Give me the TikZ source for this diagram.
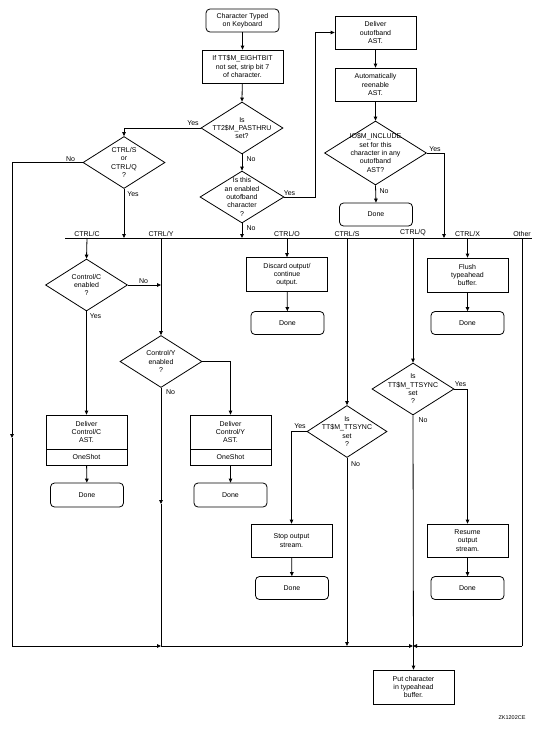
\documentclass[tikz,border=0pt]{standalone}
\usepackage{fontspec}
\setmainfont{Liberation Sans}
\usetikzlibrary{shapes.geometric, arrows.meta}

\begin{document}
\begin{tikzpicture}[x = 1pt, y = -1pt, line width = 0.8pt, >={Triangle[length = 4pt, width = 3.6pt]},
	txt/.style = {font = \fontsize{7pt}{8.3pt}\selectfont, align = center, inner sep = 0pt},
	procbox/.style = {txt, draw, rectangle, minimum width = 81pt, minimum height = 33pt},
	donebox/.style = {txt, draw, rectangle, rounded corners = 4pt, minimum width = 73pt, minimum height = 23pt},
	query/.style = {draw, diamond, inner sep = 0pt, minimum width = 82pt, minimum height = 52pt}]
	\useasboundingbox (0,0) rectangle (546,731);
	
	% main column
	\node[donebox] (typed) at (242.5,20.5) {Character Typed\\on Keyboard};
	\node[procbox] (eightbit) at (242.5,66.5) {If TT\$M\_EIGHTBIT\\not set, strip bit 7\\of character.};
	\node[query, label = {[txt]center:Is\\TT2\$M\_PASTHRU\\set?}] (pasthru) at (242,128) {};
	\node[query, minimum width = 84pt, label = {[txt]center:Is this\\an enabled\\outofband\\character\\?}] (oob) at (242,197) {};
	\node[query, label = {[txt]center:CTRL/S\\or\\CTRL/Q\\?}] (ctlsq) at (124,162.5) {};
	
	% outofband branch
	\node[procbox] (deliver) at (375.5,32.5) {Deliver\\outofband\\AST.};
	\node[procbox] (reenable) at (375.5,84.5) {Automatically\\reenable\\AST.};
	\node[query, minimum width = 102pt, minimum height = 64pt, label = {[txt]center:IO\$M\_INCLUDE\\set for this\\character in any\\outofband\\AST?}] (include) at (375.5,153) {};
	\node[donebox] (done0) at (376,214.5) {Done};
	
	% dispatch line
	\coordinate (busL) at (65,238);
	\coordinate (busR) at (532,238);
	\coordinate (busInc) at (444,238);
	\draw (busL) -- (busR);
	\foreach \x/\lab/\nm in {87/{CTRL/C}/busC, 161/{CTRL/Y}/busY, 287/{CTRL/O}/busO, 347/{CTRL/S}/busS, 413/{CTRL/Q}/busQ, 467.5/{CTRL/X}/busX, 522/Other/busOther} {
		\coordinate[label = {[txt, inner sep = 1.5pt]above:\lab}] (\nm) at (\x,238);
	}
	
	% CTRL/C and CTRL/Y
	\node[query, label = {[txt]center:Control/C\\enabled\\?}] (ctlc) at (86.5,285) {};
	\node[query, label = {[txt]center:Control/Y\\enabled\\?}] (ctly) at (161,361.5) {};
	\node[procbox, minimum height = 34pt] (astc) at (86.5,432) {Deliver\\Control/C\\AST.};
	\node[procbox, minimum height = 16pt] (shotc) at (86.5,457) {OneShot};
	\node[donebox, minimum height = 24pt] (donec) at (87,495) {Done};
	\node[procbox, minimum height = 34pt] (asty) at (230.5,432) {Deliver\\Control/Y\\AST.};
	\node[procbox, minimum height = 16pt] (shoty) at (230.5,457) {OneShot};
	\node[donebox, minimum height = 24pt] (doney) at (230.5,495) {Done};
	
	% CTRL/O and CTRL/X
	\node[procbox, minimum height = 34pt] (discard) at (287,274.5) {Discard output/\\continue\\output.};
	\node[donebox] (doneo) at (287.5,323) {Done};
	\node[procbox, minimum height = 34pt] (flush) at (467.5,275) {Flush\\typeahead\\buffer.};
	\node[donebox] (donex) at (467.5,323) {Done};
	
	% CTRL/S and CTRL/Q
	\node[query, minimum width = 80pt, label = {[txt]center:Is\\TT\$M\_TTSYNC\\set\\?}] (ssync) at (347,431.5) {};
	\node[query, label = {[txt]center:Is\\TT\$M\_TTSYNC\\set\\?}] (qsync) at (413,389) {};
	\node[procbox] (stop) at (291.5,540.5) {Stop output\\stream.};
	\node[donebox] (dones) at (292,588) {Done};
	\node[procbox] (resume) at (467.5,540.5) {Resume\\output\\stream.};
	\node[donebox] (doneq) at (467.5,588) {Done};
	
	% typeahead
	\node[procbox, minimum height = 34pt] (put) at (413.5,687) {Put character\\in typeahead\\buffer.};
	\node[txt, font = \fontsize{5.5pt}{6pt}\selectfont] (zk) at (512,718) {ZK1202CE};
	
	% yes / no
	\foreach \x/\y/\t/\nm in {193/123.5/Yes/y1, 251/159.5/No/n1, 70.5/159.5/No/n2, 133/194.5/Yes/y2, 251/228.5/No/n3, 289.5/193/Yes/y3, 435/149.5/Yes/y4, 384/191.5/No/n4, 143.5/281.5/No/n5, 95.5/316.5/Yes/y5, 170.5/392.5/No/n6, 300/426.5/Yes/y6, 355.5/464/No/n7, 460.5/384.5/Yes/y7, 423/420.5/No/n8} {
		\node[txt] (\nm) at (\x,\y) {\t};
	}
	
	% connectors
	\draw[->] (typed) -- (eightbit);
	\draw[->] (eightbit) -- (pasthru.north);
	\draw[->] (pasthru.south) -- (oob.north);
	\draw[->] (pasthru.west) -| (ctlsq.north);
	\draw[->] (ctlsq.south) -- (ctlsq.south |- busL);
	\draw[->] (oob.south) -- (oob.south |- busL);
	\draw[->] (oob.east) -- ++(31,0) |- (deliver.west);
	\draw[->] (deliver) -- (reenable);
	\draw[->] (reenable.south) -- (include.north);
	\draw[->] (include.south) -- (done0.north);
	\draw[->] (include.east) -| (busInc);
	
	\draw[->] (busC) -- (ctlc.north);
	\draw[->] (ctlc.south) -- (astc.north);
	\draw[->] (shotc) -- (donec);
	\draw[->] (ctlc.east) -- (ctlc.east -| busY);
	\draw[->] (busY) -- (ctly.north);
	\draw[->] (ctly.east) -| (asty.north);
	\draw[->] (shoty) -- (doney);
	\draw[->] (busO) -- (discard.north);
	\draw[->] (discard) -- (doneo);
	\draw[->] (busX) -- (flush.north);
	\draw[->] (flush) -- (donex);
	\draw[->] (busS) -- (ssync.north);
	\draw[->] (ssync.west) -| (stop.north);
	\draw[->] (stop) -- (dones);
	\draw[->] (busQ) -- (qsync.north);
	\draw[->] (qsync.east) -| (resume.north);
	\draw[->] (resume) -- (doneq);
	
	% collecting line
	\coordinate (leftArr) at (12,438);
	\coordinate (yArr) at (161,504);
	\coordinate (botY) at (161,646);
	\coordinate (botQ) at (413,646);
	\coordinate (botR) at (522,646);
	\draw[->] (ctlsq.west) -| (leftArr);
	\draw[->] (leftArr) |- (botY);
	\draw[->] (ctly.south) -- (yArr);
	\draw (yArr) -- (botY);
	\draw[->] (botY) -- (botQ);
	\draw[->] (ssync.south) -- (ssync.south |- botQ);
	\draw (busOther) -- (botR);
	\draw[->] (botR) -- (botQ);
	\draw[->] (qsync.south) -- (put.north);
\end{tikzpicture}
\end{document}
